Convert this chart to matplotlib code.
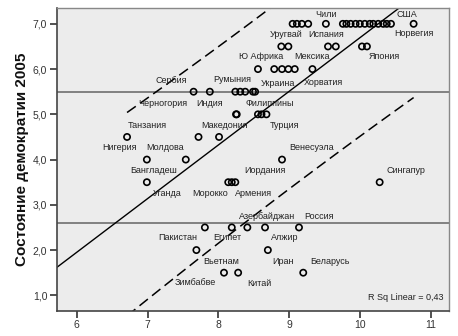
import numpy as np
import matplotlib
matplotlib.use("Agg")
import matplotlib.pyplot as plt
from matplotlib.ticker import FuncFormatter

# ---- data ----
x_vals = [9.05, 9.11, 9.18, 9.27, 9.52,
          9.76, 9.81, 9.87, 9.94, 10.00, 10.07, 10.14, 10.19, 10.26, 10.33, 10.38, 10.44, 10.76,
          8.89, 8.99, 9.55, 9.66, 10.03, 10.10,
          8.56, 8.79, 8.90, 8.99, 9.08, 9.33,
          7.65, 7.88, 8.24, 8.31, 8.38, 8.49, 8.52,
          8.25, 8.26, 8.56, 8.61, 8.68,
          6.71, 7.72, 8.01,
          6.99, 7.54, 8.90,
          6.99, 8.14, 8.19, 8.24, 10.28,
          7.81, 8.19, 8.41, 8.66, 9.14,
          7.69, 8.70,
          8.08, 8.28, 9.20]
y_vals = [7.0] * 18 + [6.5] * 6 + [6.0] * 6 + [5.5] * 7 + [5.0] * 5 + \
         [4.5] * 3 + [4.0] * 3 + [3.5] * 5 + [2.5] * 5 + [2.0] * 2 + [1.5] * 3

label_names = ["Чили", "США", "Норвегия", "Уругвай", "Испания", "Япония",
               "Ю Африка", "Мексика", "Сербия", "Румыния", "Украина", "Хорватия",
               "Черногория", "Индия", "Филиппины", "Танзания", "Македония", "Турция",
               "Нигерия", "Молдова", "Венесуэла", "Бангладеш", "Иордания", "Сингапур",
               "Уганда", "Морокко", "Армения", "Азербайджан", "Россия",
               "Пакистан", "Египет", "Алжир", "Вьетнам", "Иран", "Беларусь",
               "Зимбабве", "Китай"]
label_x = [9.52, 10.66, 10.76, 8.96, 9.52, 10.35,
           8.60, 9.32, 7.33, 8.19, 8.84, 9.49,
           7.21, 7.88, 8.72, 7.00, 8.09, 8.94,
           6.61, 7.25, 9.32, 7.08, 8.66, 10.65,
           7.28, 7.88, 8.50, 8.69, 9.42,
           7.43, 8.12, 8.94, 8.04, 8.91, 9.58,
           7.67, 8.58]
label_y = [7.21, 7.21, 6.78, 6.76, 6.76, 6.27,
           6.27, 6.27, 5.75, 5.77, 5.69, 5.71,
           5.25, 5.25, 5.25, 4.75, 4.75, 4.75,
           4.26, 4.26, 4.26, 3.76, 3.76, 3.76,
           3.25, 3.25, 3.25, 2.75, 2.75,
           2.28, 2.28, 2.28, 1.75, 1.75, 1.75,
           1.28, 1.26]

# fitted line and prediction-interval spread
fit_slope = 1.185
fit_intercept = -5.158
pred_se = 1.07
t95 = 2.0

ref_lines = [5.5, 2.6]
r_sq_text = "R Sq Linear = 0,43"
y_label = "Состояние демократии 2005"
x_ticks = [6, 7, 8, 9, 10, 11]
y_ticks = [1, 2, 3, 4, 5, 6, 7]

x = np.array(x_vals)
y = np.array(y_vals)
n = len(x)
sxx = np.sum((x - x.mean()) ** 2)

plt.rcParams['font.family'] = ['Liberation Sans', 'DejaVu Sans']

fig = plt.figure(figsize=(4.58, 3.36), dpi=100)
ax = fig.add_axes([57 / 458, 1 - 310.7 / 336, (449 - 57) / 458, (310.7 - 8) / 336])
ax.set_facecolor("#ececec")
ax.set_xlim(5.72, 11.26)
ax.set_ylim(0.66, 7.35)

for r in ref_lines:
    ax.axhline(r, color="#6e6e6e", lw=1.2, zorder=1)

xl = np.linspace(5.72, 11.26, 50)
ax.plot(xl, fit_slope * xl + fit_intercept, color="black", lw=1.0, zorder=2)
xp = np.linspace(x.min(), x.max(), 100)
hw = t95 * pred_se * np.sqrt(1 + 1 / n + (xp - x.mean()) ** 2 / sxx)
for sign in (1, -1):
    ax.plot(xp, fit_slope * xp + fit_intercept + sign * hw, color="black", lw=1.1,
            dashes=(7, 3.5), zorder=2)

ax.scatter(x, y, s=20, facecolors="none", edgecolors="black", linewidths=1.2, zorder=3)

for name, lx, ly in zip(label_names, label_x, label_y):
    ax.text(lx, ly, name, fontsize=6.5, ha="center", va="center", color="#222222", zorder=4)

ax.text(0.985, 0.03, r_sq_text, transform=ax.transAxes, ha="right", va="bottom",
        fontsize=6.5, color="#222222")

ax.set_xticks(x_ticks)
ax.set_yticks(y_ticks)
ax.yaxis.set_major_formatter(FuncFormatter(lambda v, p: f"{v:.1f}".replace(".", ",")))
ax.tick_params(axis="both", direction="out", length=5, width=1.2, color="#333333",
               labelsize=7.5, labelcolor="#333333", pad=2)
for side in ("left", "bottom"):
    ax.spines[side].set_color("#444444")
    ax.spines[side].set_linewidth(1.2)
for side in ("top", "right"):
    ax.spines[side].set_color("#888888")
    ax.spines[side].set_linewidth(1.0)

ax.set_ylabel(y_label, fontsize=11, fontweight="bold", color="#111111", labelpad=3)

fig.savefig("out.png", dpi=100, facecolor="white")
